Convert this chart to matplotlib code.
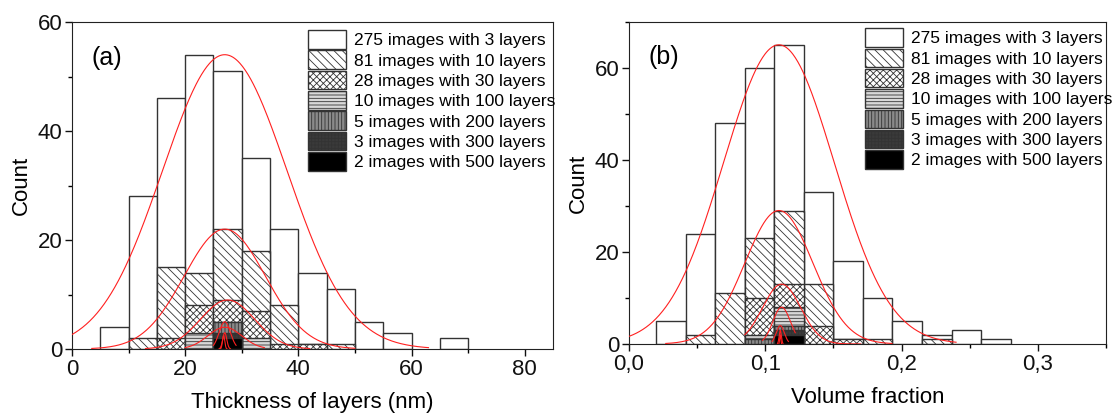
import matplotlib
matplotlib.use("Agg")
import matplotlib.pyplot as plt
import numpy as np
from matplotlib.patches import Patch
from matplotlib.ticker import MultipleLocator, FuncFormatter

plt.rcParams['font.family'] = ['Liberation Sans', 'DejaVu Sans']
plt.rcParams['hatch.linewidth'] = 0.6

labels = ['275 images with 3 layers', '81 images with 10 layers', '28 images with 30 layers',
          '10 images with 100 layers', '5 images with 200 layers', '3 images with 300 layers',
          '2 images with 500 layers']

# panel (a): thickness histograms, bins 5..70 nm
edges_a = [5, 10, 15, 20, 25, 30, 35, 40, 45, 50, 55, 60, 65, 70]
a_3 = [4, 28, 46, 54, 51, 35, 22, 14, 11, 5, 3, 0, 2]
a_10 = [0, 2, 15, 14, 22, 18, 8, 1, 1, 0, 0, 0, 0]
a_30 = [0, 0, 2, 8, 9, 7, 1, 1, 0, 0, 0, 0, 0]
a_100 = [0, 0, 0, 3, 5, 2, 0, 0, 0, 0, 0, 0, 0]
a_200 = [0, 0, 0, 0, 5, 0, 0, 0, 0, 0, 0, 0, 0]
a_300 = [0, 0, 0, 0, 3, 0, 0, 0, 0, 0, 0, 0, 0]
a_500 = [0, 0, 0, 0, 2, 0, 0, 0, 0, 0, 0, 0, 0]

# panel (b): volume fraction histograms
edges_b = [0.02, 0.0417, 0.0633, 0.085, 0.1067, 0.1283, 0.15, 0.1717, 0.1933, 0.215, 0.2367, 0.2583, 0.28]
b_3 = [5, 24, 48, 60, 65, 33, 18, 10, 5, 2, 3, 1]
b_10 = [0, 2, 11, 23, 29, 13, 1, 1, 0, 1, 0, 0]
b_30 = [0, 0, 0, 10, 13, 4, 1, 0, 0, 0, 0, 0]
b_100 = [0, 0, 0, 2, 8, 0, 0, 0, 0, 0, 0, 0]
b_200 = [0, 0, 0, 1, 4, 0, 0, 0, 0, 0, 0, 0]
b_300 = [0, 0, 0, 0, 3, 0, 0, 0, 0, 0, 0, 0]
b_500 = [0, 0, 0, 0, 2, 0, 0, 0, 0, 0, 0, 0]

# gaussian fits: amplitude, centre, sigma, x from, x to
fit_a = [(54, 27, 11, 0, 63), (22, 27, 7.2, 3.5, 50), (9, 27.5, 4.8, 13, 42),
         (4, 27, 3, 20, 34), (5, 27, 1.0, 25, 29), (3, 27, 0.35, 26, 28), (2.5, 26.8, 0.2, 26.2, 27.4)]
fit_b = [(65, 0.11, 0.0406, 0, 0.24), (29, 0.11, 0.025, 0.027, 0.193), (13, 0.112, 0.014, 0.085, 0.17),
         (8, 0.112, 0.0065, 0.098, 0.122), (4, 0.111, 0.003, 0.105, 0.117), (3, 0.111, 0.0008, 0.109, 0.113),
         (2, 0.111, 0.0004, 0.110, 0.112)]

styles = [dict(facecolor='white', hatch=None),
          dict(facecolor='white', hatch='\\\\\\\\'),
          dict(facecolor='white', hatch='xxxxx'),
          dict(facecolor='#d8d8d8', hatch='-----'),
          dict(facecolor='#8a8a8a', hatch='|||||'),
          dict(facecolor='#3a3a3a', hatch='+++++'),
          dict(facecolor='black', hatch=None)]
edge = '#333333'

fig = plt.figure(figsize=(11.14, 4.19), dpi=100)
ax1 = fig.add_axes([0.0646, 0.167, 0.4318, 0.7805])
ax2 = fig.add_axes([0.5646, 0.179, 0.4282, 0.769])


def draw(ax, edges, series, fits, anchor):
    edges = np.array(edges)
    widths = np.diff(edges)
    for vals, st in zip(series, styles):
        vals = np.array(vals)
        m = vals > 0
        ax.bar(edges[:-1][m], vals[m], width=widths[m], align='edge',
               edgecolor=edge, linewidth=1.0, zorder=2, **st)
    for amp, mu, sig, x0, x1 in fits:
        xs = np.linspace(x0, x1, 400)
        ax.plot(xs, amp * np.exp(-(xs - mu) ** 2 / (2 * sig ** 2)), color='#ff2020', lw=0.8, zorder=3)
    for s in ax.spines.values():
        s.set_color('#222222')
    ax.tick_params(direction='out', labelsize=16, length=5, width=1, pad=2, colors='#111111')
    ax.tick_params(which='minor', direction='out', length=3, width=1)
    ax.set_ylabel('Count', fontsize=16, labelpad=4)
    handles = [Patch(edgecolor=edge, linewidth=1.0, **st) for st in styles]
    ax.legend(handles, labels, loc='upper left', bbox_to_anchor=anchor, frameon=False, fontsize=12.5,
              handlelength=2.2, handleheight=1.27, labelspacing=0.1, handletextpad=0.45,
              borderaxespad=0, borderpad=0)


draw(ax1, edges_a, [a_3, a_10, a_30, a_100, a_200, a_300, a_500], fit_a, (0.49, 0.975))
ax1.set_xlim(0, 85)
ax1.set_ylim(0, 60)
ax1.xaxis.set_major_locator(MultipleLocator(20))
ax1.xaxis.set_minor_locator(MultipleLocator(10))
ax1.yaxis.set_major_locator(MultipleLocator(20))
ax1.yaxis.set_minor_locator(MultipleLocator(10))
ax1.set_xlabel('Thickness of layers (nm)', fontsize=16, labelpad=9)
ax1.text(0.04, 0.89, '(a)', transform=ax1.transAxes, fontsize=18, va='center')

draw(ax2, edges_b, [b_3, b_10, b_30, b_100, b_200, b_300, b_500], fit_b, (0.495, 0.98))
ax2.set_xlim(0, 0.35)
ax2.set_ylim(0, 70)
ax2.xaxis.set_major_locator(MultipleLocator(0.1))
ax2.xaxis.set_minor_locator(MultipleLocator(0.05))
ax2.xaxis.set_major_formatter(FuncFormatter(lambda v, p: f'{v:.1f}'.replace('.', ',')))
ax2.yaxis.set_major_locator(MultipleLocator(20))
ax2.yaxis.set_minor_locator(MultipleLocator(10))
ax2.set_xlabel('Volume fraction', fontsize=16, labelpad=9)
ax2.text(0.04, 0.89, '(b)', transform=ax2.transAxes, fontsize=18, va='center')

fig.savefig('out.png', dpi=100)
